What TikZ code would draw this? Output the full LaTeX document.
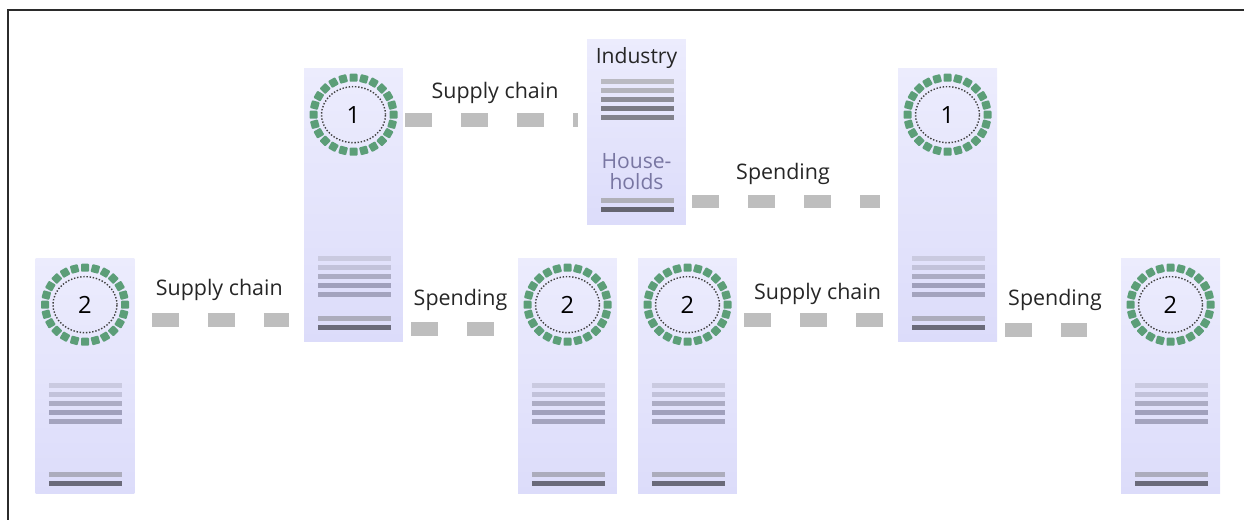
\documentclass[tikz,border=0pt]{standalone}
\usepackage{fontspec}
\setmainfont{Open Sans}
\usetikzlibrary{shapes.geometric}
\usetikzlibrary{positioning}

\definecolor{frame}{RGB}{43,43,43}
\definecolor{paneltop}{RGB}{236,236,253}
\definecolor{panelbot}{RGB}{220,220,250}
\definecolor{hubgreen}{RGB}{92,158,120}
\definecolor{flowgrey}{RGB}{190,190,190}
\definecolor{homes}{RGB}{120,118,162}
% lavender bars in the sector panels
\definecolor{lav1}{RGB}{202,202,224}
\definecolor{lav2}{RGB}{194,194,218}
\definecolor{lav3}{RGB}{172,172,196}
\definecolor{lav4}{RGB}{160,160,188}
\definecolor{lav5}{RGB}{164,164,190}
\definecolor{lavlight}{RGB}{172,172,188}
\definecolor{lavdark}{RGB}{106,106,122}
% grey bars in the industry/households panel
\definecolor{gry1}{RGB}{186,186,194}
\definecolor{gry2}{RGB}{180,180,188}
\definecolor{gry3}{RGB}{142,142,152}
\definecolor{gry4}{RGB}{122,122,132}
\definecolor{gry5}{RGB}{130,130,140}
\definecolor{grylight}{RGB}{176,176,184}
\definecolor{grydark}{RGB}{102,102,112}

\tikzset{
	panel/.style={rectangle, inner sep=0pt, minimum width=1.98cm, top color=paneltop, bottom color=panelbot, draw=none},
	tallpanel/.style={panel, minimum height=5.48cm},
	shortpanel/.style={panel, minimum height=4.72cm},
	hub/.style={ellipse, draw=black!75, densely dotted, line width=0.8pt, inner sep=0pt, minimum width=1.28cm, minimum height=1.12cm, font=\fontsize{13.5}{16}\selectfont},
	flow/.style={draw=flowgrey, line width=0.28cm, dash pattern=on 0.54cm off 0.58cm},
	lbl/.style={midway, anchor=base, font=\fontsize{12.2}{14}\selectfont, text=black!85, inner sep=0pt},
	tag/.style={font=\fontsize{12}{11.5}\selectfont, inner sep=0pt, align=center},
}

\newcommand{\hubring}[1]{% {hub node}
	\foreach \a in {0,15,...,345}
		\fill[hubgreen, rounded corners=0.5pt, shift={(#1.center)}, shift={(\a:40 and 37)}, rotate=-\a] (-4,-4) rectangle (4,4); % green squares
}
\newcommand{\barstack}[3]{% {panel}{gap below top}{colour prefix}
	\foreach \k in {1,...,5}
		\fill[#3\k] (#1.north) ++(-36,#2+9*\k-9) rectangle ++(73,5); % five bars
}
\newcommand{\basebars}[3]{% {panel}{gap above bottom}{colour prefix}
	\fill[#3light] (#1.south) ++(-36,-#2) rectangle ++(73,5);
	\fill[#3dark] (#1.south) ++(-36,-#2+9) rectangle ++(73,5);
}

\begin{document}
\begin{tikzpicture}[x=0.02cm, y=-0.02cm]
	\useasboundingbox (0,0) rectangle (1244,520);
	\draw[frame, line width=1.3pt] (8,520) -- (8,10) -- (1244,10);

	% panels
	\node[shortpanel] (colA) at (85,376) {};
	\node[tallpanel] (colB) at (353.5,205) {};
	\node[panel, minimum height=3.72cm] (colC) at (636.5,132) {};
	\node[shortpanel] (colD) at (567.5,376) {};
	\node[shortpanel] (colE) at (687.5,376) {};
	\node[tallpanel] (colF) at (947.5,205) {};
	\node[shortpanel] (colG) at (1170.5,376) {};

	% hubs
	\node[hub] (hubA) at ([yshift=-0.94cm]colA.north) {2};
	\node[hub] (hubB) at ([yshift=-0.94cm]colB.north) {1};
	\node[hub] (hubD) at ([yshift=-0.94cm]colD.north) {2};
	\node[hub] (hubE) at ([yshift=-0.94cm]colE.north) {2};
	\node[hub] (hubF) at ([yshift=-0.94cm]colF.north) {1};
	\node[hub] (hubG) at ([yshift=-0.94cm]colG.north) {2};
	\foreach \h in {hubA,hubB,hubD,hubE,hubF,hubG} {\hubring{\h}}

	% bars
	\foreach \c in {colA,colD,colE,colG} {\barstack{\c}{125.5}{lav}\basebars{\c}{22}{lav}}
	\foreach \c in {colB,colF} {\barstack{\c}{188.5}{lav}\basebars{\c}{26}{lav}}
	\barstack{colC}{40.5}{gry}
	\basebars{colC}{27}{gry}

	\node[tag, anchor=base, text=black!85] (ind) at ([yshift=-0.5cm]colC.north) {Industry};
	\node[tag, text=homes] (hh) at ([yshift=-2.66cm]colC.north) {House-\\holds};

	% flows
	\draw[flow, shorten <=0.34cm, shorten >=0.30cm] (colA.east |- 0,320) -- (colB.west |- 0,320) node[lbl, yshift=0.5cm] (scA) {Supply chain};
	\draw[flow, shorten <=0.04cm, shorten >=0.18cm] (colB.east |- 0,120) -- (colC.west |- 0,120) node[lbl, yshift=0.44cm] (scB) {Supply chain};
	\draw[flow, shorten <=0.12cm, shorten >=0.36cm] (colC.east |- 0,201.5) -- (colF.west |- 0,201.5) node[lbl, yshift=0.44cm, xshift=-0.18cm] (spC) {Spending};
	\draw[flow, shorten <=0.16cm, shorten >=0.48cm] (colB.east |- 0,329) -- (colD.west |- 0,329) node[lbl, yshift=0.48cm] (spB) {Spending};
	\draw[flow, shorten <=0.14cm, shorten >=0.30cm] (colE.east |- 0,320) -- (colF.west |- 0,320) node[lbl, yshift=0.42cm] (scE) {Supply chain};
	\draw[flow, shorten <=0.16cm, shorten >=0.68cm] (colF.east |- 0,330) -- (colG.west |- 0,330) node[lbl, yshift=0.5cm, xshift=-0.08cm] (spF) {Spending};
\end{tikzpicture}
\end{document}
